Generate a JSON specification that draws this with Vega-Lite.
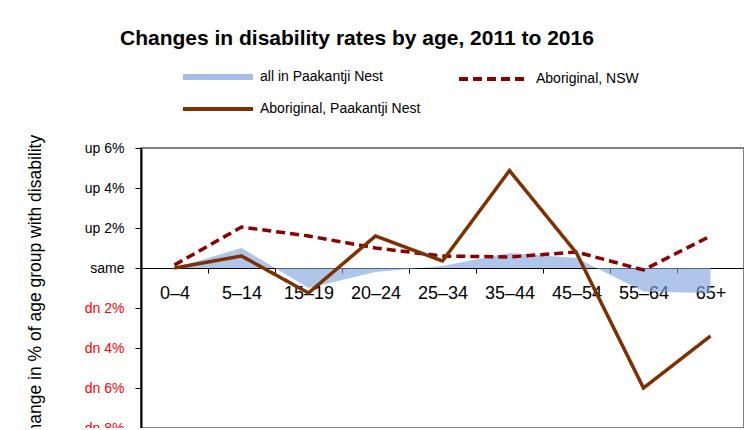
{
  "$schema": "https://vega.github.io/schema/vega-lite/v6.json",
  "width": 603,
  "height": 280,
  "autosize": {"type": "none"},
  "padding": {"left": 141, "top": 148, "right": 0, "bottom": 0},
  "background": "white",
  "title": {
    "text": "Changes in disability rates by age, 2011 to 2016",
    "anchor": "start",
    "frame": "group",
    "dx": -21,
    "offset": 21,
    "font": "Liberation Sans, Arial, sans-serif",
    "fontSize": 21,
    "fontWeight": "bold",
    "color": "black"
  },
  "config": {
    "view": {"stroke": "#808080", "strokeWidth": 2},
    "font": "Liberation Sans, Arial, sans-serif"
  },
  "data": {
    "values": [
      {"age": "0–4", "series": "all in Paakantji Nest", "value": 0},
      {"age": "5–14", "series": "all in Paakantji Nest", "value": 1.0},
      {"age": "15–19", "series": "all in Paakantji Nest", "value": -1.0},
      {"age": "20–24", "series": "all in Paakantji Nest", "value": -0.2},
      {"age": "25–34", "series": "all in Paakantji Nest", "value": 0.1},
      {"age": "35–44", "series": "all in Paakantji Nest", "value": 0.75},
      {"age": "45–54", "series": "all in Paakantji Nest", "value": 0.5},
      {"age": "55–64", "series": "all in Paakantji Nest", "value": -1.18},
      {"age": "65+", "series": "all in Paakantji Nest", "value": -1.25},
      {"age": "0–4", "series": "Aboriginal, NSW", "value": 0.15},
      {"age": "5–14", "series": "Aboriginal, NSW", "value": 2.05},
      {"age": "15–19", "series": "Aboriginal, NSW", "value": 1.6},
      {"age": "20–24", "series": "Aboriginal, NSW", "value": 1.0},
      {"age": "25–34", "series": "Aboriginal, NSW", "value": 0.6},
      {"age": "35–44", "series": "Aboriginal, NSW", "value": 0.55},
      {"age": "45–54", "series": "Aboriginal, NSW", "value": 0.8},
      {"age": "55–64", "series": "Aboriginal, NSW", "value": -0.1},
      {"age": "65+", "series": "Aboriginal, NSW", "value": 1.6},
      {"age": "0–4", "series": "Aboriginal, Paakantji Nest", "value": 0},
      {"age": "5–14", "series": "Aboriginal, Paakantji Nest", "value": 0.6},
      {"age": "15–19", "series": "Aboriginal, Paakantji Nest", "value": -1.25},
      {"age": "20–24", "series": "Aboriginal, Paakantji Nest", "value": 1.6},
      {"age": "25–34", "series": "Aboriginal, Paakantji Nest", "value": 0.35},
      {"age": "35–44", "series": "Aboriginal, Paakantji Nest", "value": 4.87},
      {"age": "45–54", "series": "Aboriginal, Paakantji Nest", "value": 0.75},
      {"age": "55–64", "series": "Aboriginal, Paakantji Nest", "value": -6.0},
      {"age": "65+", "series": "Aboriginal, Paakantji Nest", "value": -3.4}
    ]
  },
  "encoding": {
    "x": {
      "field": "age",
      "type": "ordinal",
      "sort": ["0–4", "5–14", "15–19", "20–24", "25–34", "35–44", "45–54", "55–64", "65+"],
      "scale": {"paddingInner": 0, "paddingOuter": 0},
      "axis": {
        "title": null,
        "orient": "bottom",
        "offset": -160,
        "labelAngle": 0,
        "labelFontSize": 18,
        "labelColor": "black",
        "labelPadding": 11,
        "tickBand": "extent",
        "tickSize": 5,
        "tickColor": "black",
        "domainColor": "black",
        "domainWidth": 1.2,
        "grid": false
      }
    },
    "y": {
      "field": "value",
      "type": "quantitative",
      "stack": null,
      "scale": {"domain": [-8, 6], "nice": false, "zero": false},
      "axis": {
        "values": [-8, -6, -4, -2, 0, 2, 4, 6],
        "labelExpr": "datum.value > 0 ? 'up ' + datum.value + '%' : datum.value < 0 ? 'dn ' + (-datum.value) + '%' : 'same'",
        "labelColor": {"condition": {"test": "datum.value < 0", "value": "#ff0000"}, "value": "black"},
        "labelFontSize": 14,
        "labelPadding": 11,
        "title": "change in % of age group with disability",
        "titleFontSize": 17.5,
        "titleFontWeight": "normal",
        "titleColor": "black",
        "titlePadding": 40,
        "tickSize": 6,
        "tickColor": "black",
        "domainColor": "black",
        "domainWidth": 2,
        "grid": false
      }
    }
  },
  "layer": [
    {
      "transform": [{"filter": "datum.series === 'all in Paakantji Nest'"}],
      "mark": {"type": "area", "color": "#7ea2dc", "opacity": 0.62}
    },
    {
      "transform": [{"filter": "datum.series !== 'all in Paakantji Nest'"}],
      "mark": {"type": "line", "strokeWidth": 3.5, "strokeCap": "butt"},
      "encoding": {
        "color": {
          "field": "series",
          "type": "nominal",
          "scale": {
            "domain": ["all in Paakantji Nest", "Aboriginal, Paakantji Nest", "Aboriginal, NSW"],
            "range": ["#a3bde6", "#7f3000", "#8b0000"]
          },
          "legend": {
            "orient": "none",
            "legendX": 70,
            "legendY": -78,
            "columns": 2,
            "title": null,
            "symbolType": "stroke",
            "symbolSize": 4900,
            "symbolStrokeWidth": 4,
            "labelFontSize": 14,
            "labelColor": "black",
            "labelOffset": 35,
            "columnPadding": 30,
            "rowPadding": 12,
            "labelLimit": 300,
            "encode": {"symbols": {"update": {"strokeWidth": {"signal": "datum.value === 'all in Paakantji Nest' ? 6 : 4"}}}}
          }
        },
        "strokeDash": {
          "field": "series",
          "type": "nominal",
          "scale": {
            "domain": ["all in Paakantji Nest", "Aboriginal, Paakantji Nest", "Aboriginal, NSW"],
            "range": [[1, 0], [1, 0], [9, 5]]
          },
          "legend": {
            "orient": "none",
            "legendX": 70,
            "legendY": -78,
            "columns": 2,
            "title": null,
            "symbolType": "stroke",
            "symbolSize": 4900,
            "symbolStrokeWidth": 4,
            "labelFontSize": 14,
            "labelColor": "black",
            "labelOffset": 35,
            "columnPadding": 30,
            "rowPadding": 12,
            "labelLimit": 300,
            "encode": {"symbols": {"update": {"strokeWidth": {"signal": "datum.value === 'all in Paakantji Nest' ? 6 : 4"}}}}
          }
        }
      }
    }
  ]
}
